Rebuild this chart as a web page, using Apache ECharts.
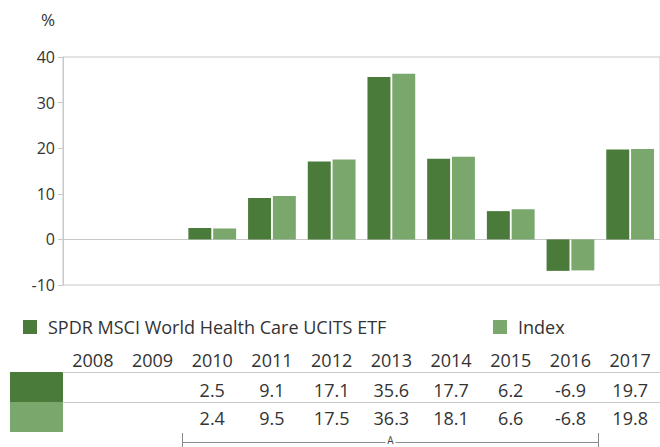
<!DOCTYPE html>
<html lang="en">

<head>
    <title>SPDR MSCI World Health Care UCITS ETF</title>
    <meta charset="UTF-8">
    <script src="https://cdn.jsdelivr.net/npm/echarts@6/dist/echarts.min.js"></script>
    <style>
        html, body { margin: 0; padding: 0; background: #fff; }
        #chart { width: 660px; height: 447px; }
    </style>
</head>

<body>
    <div id="chart"></div>

    <script>
        // data (table rows == bar heights)
        var years = ['2008', '2009', '2010', '2011', '2012', '2013', '2014', '2015', '2016', '2017'];
        var fundName = 'SPDR MSCI World Health Care UCITS ETF';
        var indexName = 'Index';
        var fundValues = [null, null, 2.5, 9.1, 17.1, 35.6, 17.7, 6.2, -6.9, 19.7];
        var indexValues = [null, null, 2.4, 9.5, 17.5, 36.3, 18.1, 6.6, -6.8, 19.8];
        var yTicks = { min: -10, max: 40, interval: 10 };
        var bracketFrom = '2010', bracketTo = '2016', bracketLabel = 'A';

        var dark = '#4a7b3b';
        var light = '#7aa86c';
        var grey = '#c8c8c8';
        var txt = '#333333';
        var font = 'Open Sans';

        var fmt = function (arr) {
            return function (v, i) {
                return arr[i] == null ? '' : arr[i].toFixed(1);
            };
        };

        // table rows are drawn as extra category axes under the grid
        var tableAxis = function (offset, margin, showLine, formatter) {
            return {
                type: 'category',
                data: years,
                position: 'bottom',
                offset: offset,
                axisLine: { show: showLine, onZero: false, lineStyle: { color: grey, width: 1 } },
                axisTick: { show: false },
                splitLine: { show: false },
                axisLabel: {
                    interval: 0, margin: margin, verticalAlign: 'middle',
                    fontSize: 18, color: txt, fontFamily: font,
                    formatter: formatter
                }
            };
        };

        var legendBase = function (name, left) {
            return {
                data: [name],
                left: left,
                top: 318,
                padding: 0,
                icon: 'rect',
                itemWidth: 14,
                itemHeight: 14,
                selectedMode: false,
                textStyle: { fontSize: 18, color: txt, fontFamily: font, padding: [0, 0, 0, 6] }
            };
        };

        var option = {
            animation: false,
            textStyle: { fontFamily: font },
            grid: {
                left: 63, right: -5, top: 57, bottom: 162,
                show: true, borderColor: grey, borderWidth: 1
            },
            legend: [legendBase(fundName, 23), legendBase(indexName, 493)],
            xAxis: [
                {
                    type: 'category',
                    data: years,
                    axisLine: { onZero: true, lineStyle: { color: grey, width: 1 } },
                    axisTick: { show: false },
                    axisLabel: { show: false }
                },
                tableAxis(75, 0, false, null),
                tableAxis(87, 18, true, fmt(fundValues)),
                tableAxis(117, 16, true, fmt(indexValues))
            ],
            yAxis: {
                type: 'value',
                min: yTicks.min,
                max: yTicks.max,
                interval: yTicks.interval,
                name: '%',
                nameLocation: 'end',
                nameGap: 29,
                nameTextStyle: { fontSize: 17, color: txt, align: 'right', padding: [0, 8, 0, 0] },
                axisLine: { show: true, lineStyle: { color: grey, width: 1 } },
                axisTick: { show: true, length: 5, lineStyle: { color: grey } },
                splitLine: { show: false },
                axisLabel: { fontSize: 16, color: txt, margin: 8 }
            },
            series: [
                {
                    name: fundName, type: 'bar', data: fundValues,
                    itemStyle: { color: dark },
                    barCategoryGap: '20%', barGap: '8%'
                },
                {
                    name: indexName, type: 'bar', data: indexValues,
                    itemStyle: { color: light },
                    barCategoryGap: '20%', barGap: '8%'
                }
            ]
        };

        var myChart = echarts.init(document.getElementById('chart'), null, { renderer: 'svg' });
        myChart.setOption(option);

        // swatches at the left of the table rows and the bracket under it
        var c0 = myChart.convertToPixel({ xAxisIndex: 0 }, years[0]);
        var c1 = myChart.convertToPixel({ xAxisIndex: 0 }, years[1]);
        var band = c1 - c0;
        var bx0 = Math.round(myChart.convertToPixel({ xAxisIndex: 0 }, bracketFrom) - band / 2) + 0.5;
        var bx1 = Math.round(myChart.convertToPixel({ xAxisIndex: 0 }, bracketTo) + band / 2) - 1.5;
        var bmid = (bx0 + bx1) / 2;
        var by = 442.5;
        var bracketStyle = { stroke: '#8a8a8a', lineWidth: 1 };

        myChart.setOption({
            graphic: [
                { type: 'rect', shape: { x: 10, y: 372, width: 53, height: 30 }, style: { fill: dark } },
                { type: 'rect', shape: { x: 10, y: 402, width: 53, height: 30 }, style: { fill: light } },
                { type: 'line', shape: { x1: bx0, y1: 433, x2: bx0, y2: 447 }, style: bracketStyle },
                { type: 'line', shape: { x1: bx1, y1: 433, x2: bx1, y2: 447 }, style: bracketStyle },
                { type: 'line', shape: { x1: bx0, y1: by, x2: bmid - 5, y2: by }, style: bracketStyle },
                { type: 'line', shape: { x1: bmid + 5, y1: by, x2: bx1, y2: by }, style: bracketStyle },
                {
                    type: 'text', x: bmid, y: 439.5,
                    style: {
                        text: bracketLabel, fill: '#444', fontSize: 10, fontFamily: font,
                        align: 'center', verticalAlign: 'middle'
                    }
                }
            ]
        });
    </script>
</body>

</html>
